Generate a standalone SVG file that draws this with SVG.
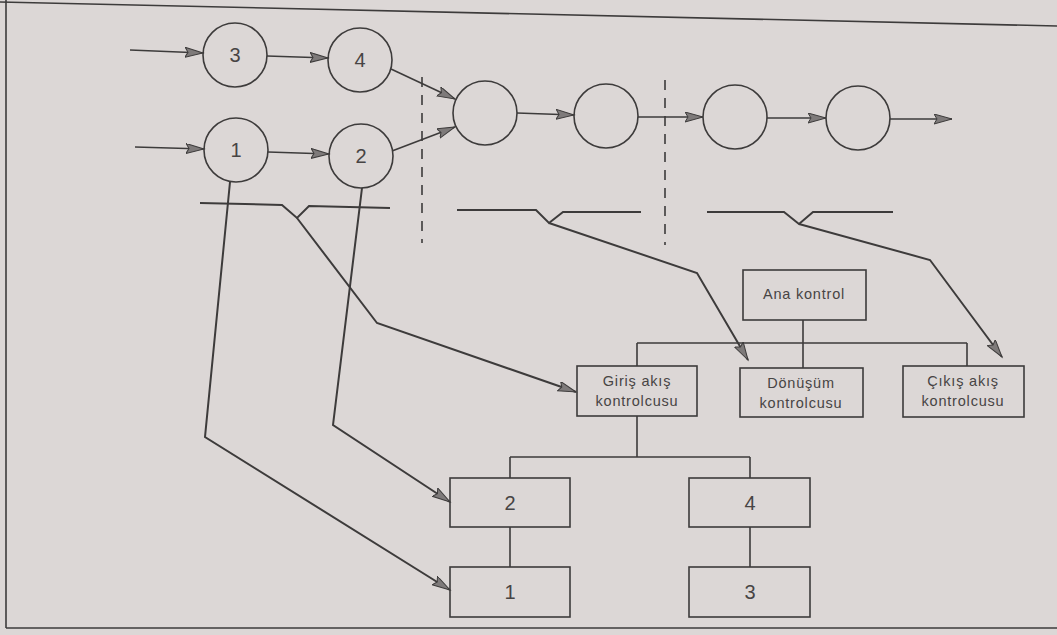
<svg xmlns="http://www.w3.org/2000/svg" width="1057" height="635" viewBox="0 0 1057 635">
<style>
.bg{fill:#dcd7d6}
.ln{fill:none;stroke:#3d3b3b;stroke-width:1.6}
.cn{fill:none;stroke:#3d3b3b;stroke-width:2}
.nd{fill:none;stroke:#3d3b3b;stroke-width:1.6}
.dash{fill:none;stroke:#3d3b3b;stroke-width:1.6;stroke-dasharray:10 8}
.t{font-family:"Liberation Sans",Arial,sans-serif;fill:#474444;text-anchor:middle}
.num{font-size:20px}
.lbl{font-size:14.5px;letter-spacing:0.8px}
</style>
<defs>
<marker id="ah" markerUnits="userSpaceOnUse" markerWidth="21" markerHeight="12" refX="18" refY="5" orient="auto">
<path d="M0,0 L18,5 L0,10 L3,5 z" fill="#7e7a7a" stroke="#3d3b3b" stroke-width="1"/>
</marker>
</defs>
<rect class="bg" x="0" y="0" width="1057" height="635"/>
<g id="frame">
<line class="ln" x1="0" y1="2" x2="1057" y2="26"/>
<line class="ln" x1="6" y1="0" x2="6" y2="628"/>
<line class="ln" x1="6" y1="628" x2="1057" y2="628"/>
<line class="dash" x1="422" y1="77" x2="422" y2="243"/>
<line class="dash" x1="665" y1="80" x2="665" y2="245"/>
<path class="cn" d="M200,203 L282,205 L297,218 L309,206 L390,208"/>
<path class="cn" d="M457,210 L536,210 L549,223 L563,212 L641,212"/>
<path class="cn" d="M707,212 L784,212 L799,224 L813,212 L893,212"/>
</g>
<g id="c3"><circle class="nd" cx="235" cy="55" r="32"/><text class="t num" x="235" y="62">3</text></g>
<g id="c4"><circle class="nd" cx="360" cy="60" r="32"/><text class="t num" x="360" y="67">4</text></g>
<g id="c1"><circle class="nd" cx="236" cy="150" r="32"/><text class="t num" x="236" y="157">1</text></g>
<g id="c2"><circle class="nd" cx="361" cy="156" r="32"/><text class="t num" x="361" y="163">2</text></g>
<g id="cA"><circle class="nd" cx="485" cy="113" r="32"/></g>
<g id="cB"><circle class="nd" cx="606" cy="116" r="32"/></g>
<g id="cC"><circle class="nd" cx="735" cy="117" r="32"/></g>
<g id="cD"><circle class="nd" cx="858" cy="118" r="32"/></g>
<g id="ana"><rect class="nd" x="743" y="270" width="123" height="50"/><text class="t lbl" x="804" y="299">Ana kontrol</text></g>
<g id="giris"><rect class="nd" x="577" y="366" width="120" height="50"/><text class="t lbl" x="637" y="386">Giriş akış</text><text class="t lbl" x="637" y="406">kontrolcusu</text></g>
<g id="donusum"><rect class="nd" x="740" y="368" width="123" height="49"/><text class="t lbl" x="801" y="388">Dönüşüm</text><text class="t lbl" x="801" y="408">kontrolcusu</text></g>
<g id="cikis"><rect class="nd" x="903" y="366" width="121" height="51"/><text class="t lbl" x="963" y="386">Çıkış akış</text><text class="t lbl" x="963" y="406">kontrolcusu</text></g>
<g id="b2"><rect class="nd" x="450" y="478" width="120" height="49"/><text class="t num" x="510" y="510">2</text></g>
<g id="b4"><rect class="nd" x="689" y="478" width="121" height="49"/><text class="t num" x="750" y="510">4</text></g>
<g id="b1"><rect class="nd" x="450" y="567" width="120" height="50"/><text class="t num" x="510" y="599">1</text></g>
<g id="b3"><rect class="nd" x="689" y="567" width="121" height="50"/><text class="t num" x="750" y="599">3</text></g>
<g id="connectors">
<line class="ln" x1="130" y1="50" x2="203" y2="53" marker-end="url(#ah)"/>
<line class="ln" x1="267" y1="56" x2="328" y2="58" marker-end="url(#ah)"/>
<line class="ln" x1="135" y1="147" x2="204" y2="149" marker-end="url(#ah)"/>
<line class="ln" x1="268" y1="152" x2="329" y2="154" marker-end="url(#ah)"/>
<line class="ln" x1="391" y1="69" x2="455" y2="99" marker-end="url(#ah)"/>
<line class="ln" x1="392" y1="151" x2="455" y2="127" marker-end="url(#ah)"/>
<line class="ln" x1="517" y1="113" x2="574" y2="115" marker-end="url(#ah)"/>
<line class="ln" x1="638" y1="117" x2="703" y2="117" marker-end="url(#ah)"/>
<line class="ln" x1="767" y1="118" x2="826" y2="118" marker-end="url(#ah)"/>
<line class="ln" x1="890" y1="119" x2="952" y2="119" marker-end="url(#ah)"/>
<path class="cn" d="M297,218 L377,323 L576,392" marker-end="url(#ah)"/>
<path class="cn" d="M549,223 L697,273 L748,360" marker-end="url(#ah)"/>
<path class="cn" d="M799,224 L930,260 L1002,357" marker-end="url(#ah)"/>
<path class="cn" d="M230,182 L205,437 L450,590" marker-end="url(#ah)"/>
<path class="cn" d="M362,188 L333,425 L450,502" marker-end="url(#ah)"/>
<path class="ln" d="M803,320 L803,343 M637,343 L967,343 M637,343 L637,366 M803,343 L803,368 M967,343 L967,366"/>
<path class="ln" d="M637,416 L637,457 M510,457 L750,457 M510,457 L510,478 M750,457 L750,478 M510,527 L510,567 M750,527 L750,567"/>
</g>
</svg>
